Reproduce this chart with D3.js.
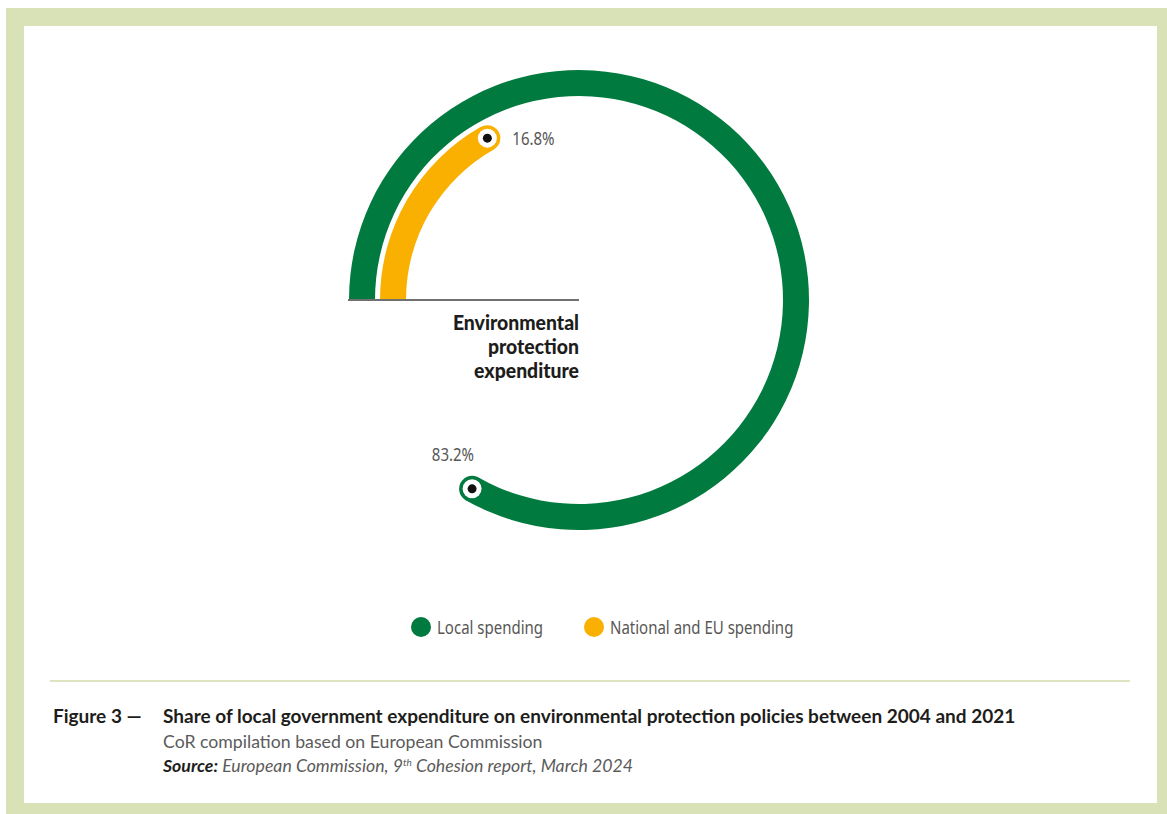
<!DOCTYPE html>
<html>
<head>
<meta charset="utf-8">
<script src="https://cdn.jsdelivr.net/npm/d3@7"></script>
<style>
  html, body { margin: 0; padding: 0; background: #ffffff; }
  svg { display: block; }
</style>
</head>
<body>
<svg id="chart" width="1167" height="814"></svg>
<script>
// ---- data ----
const categories = ["Local spending", "National and EU spending"];
const shares = [83.2, 16.8];
const shareLabels = ["83.2%", "16.8%"];
const colors = ["#007a3e", "#f9b000"];
const centerLabel = ["Environmental", "protection", "expenditure"];
const captionFigure = "Figure 3 \u2014";
const captionTitle = "Share of local government expenditure on environmental protection policies between 2004 and 2021";
const captionSub = "CoR compilation based on European Commission";

const svg = d3.select("#chart");
const W = 1167, H = 814;

// frame
svg.append("rect").attr("x", 6).attr("y", 8).attr("width", W - 6).attr("height", H - 8).attr("fill", "#d9e1b7");
svg.append("rect").attr("x", 24).attr("y", 26).attr("width", 1133).attr("height", 777).attr("fill", "#ffffff");

// condensed look: regular sans squeezed horizontally
const condFont = "'Noto Sans', 'Open Sans', sans-serif";
const SQ = 0.79;
const capFont = "Lato, 'Open Sans', 'Noto Sans', sans-serif";

function condText(parent, x, y, anchor, size, weight, fill, font, sq) {
  return parent.append("text")
    .attr("transform", `translate(${x},${y}) scale(${sq || SQ},1)`)
    .attr("text-anchor", anchor)
    .attr("font-family", font || condFont)
    .attr("font-size", size)
    .attr("font-weight", weight)
    .attr("fill", fill);
}

// ---- rings ----
const cx = 579, cy = 300;
const rings = [
  { outer: 230, inner: 204 },
  { outer: 199, inner: 173 }
];
const angle = d3.scaleLinear().domain([0, 100]).range([0, 2 * Math.PI]);
const start = -Math.PI / 2;

const g = svg.append("g").attr("transform", `translate(${cx},${cy})`);
const arc = d3.arc();

shares.forEach((v, i) => {
  const r = rings[i];
  const a1 = start + angle(v);
  g.append("path")
    .attr("d", arc({ innerRadius: r.inner, outerRadius: r.outer, startAngle: start, endAngle: a1 }))
    .attr("fill", colors[i]);
  const mid = (r.inner + r.outer) / 2;
  const ex = mid * Math.sin(a1), ey = -mid * Math.cos(a1);
  const capR = (r.outer - r.inner) / 2;
  g.append("circle").attr("cx", ex).attr("cy", ey).attr("r", capR).attr("fill", colors[i]);
  g.append("circle").attr("cx", ex).attr("cy", ey).attr("r", 9.5).attr("fill", "#ffffff");
  g.append("circle").attr("cx", ex).attr("cy", ey).attr("r", 4.5).attr("fill", "#111111");
  // value label
  if (i === 0) {
    condText(g, ex + 2, ey - 28, "end", 19, "normal", "#575756").text(shareLabels[i]);
  } else {
    condText(g, ex + 25, ey + 7, "start", 19, "normal", "#575756").text(shareLabels[i]);
  }
});

// baseline
g.append("line").attr("x1", -rings[0].outer - 1).attr("x2", 0).attr("y1", 0).attr("y2", 0)
  .attr("stroke", "#707070").attr("stroke-width", 2);

// center label (one text per line)
centerLabel.forEach((t, i) => {
  condText(g, 0, 30 + i * 24, "end", 20, "900", "#1d1d1b", capFont, 0.97).text(t);
});

// ---- legend ----
const legendX = [421, 594];
const legend = svg.append("g");
categories.forEach((c, i) => {
  legend.append("circle").attr("cx", legendX[i]).attr("cy", 627).attr("r", 10).attr("fill", colors[i]);
  condText(legend, legendX[i] + 16, 634, "start", 19, "normal", "#575756").text(c);
});

// separator
svg.append("line").attr("x1", 50).attr("x2", 1130).attr("y1", 681).attr("y2", 681)
  .attr("stroke", "#dde4c2").attr("stroke-width", 2);

// ---- caption ----
svg.append("text").attr("x", 53).attr("y", 723)
  .attr("font-family", capFont).attr("font-weight", "bold").attr("font-size", 19)
  .attr("fill", "#1d1d1b").text(captionFigure);
svg.append("text").attr("x", 163).attr("y", 723)
  .attr("font-family", capFont).attr("font-weight", "bold").attr("font-size", 19)
  .attr("fill", "#1d1d1b").text(captionTitle);
svg.append("text").attr("x", 163).attr("y", 748)
  .attr("font-family", capFont).attr("font-size", 17.7)
  .attr("fill", "#5b5b5b").text(captionSub);
const src = svg.append("text").attr("x", 163).attr("y", 772)
  .attr("font-family", capFont).attr("font-size", 17.7).attr("font-style", "italic")
  .attr("fill", "#5b5b5b");
src.append("tspan").attr("font-weight", "bold").attr("fill", "#1d1d1b").text("Source:");
src.append("tspan").text(" European Commission, 9");
src.append("tspan").attr("font-size", 10).attr("dy", -6).text("th");
src.append("tspan").attr("dy", 6).text(" Cohesion report, March 2024");
</script>
</body>
</html>
